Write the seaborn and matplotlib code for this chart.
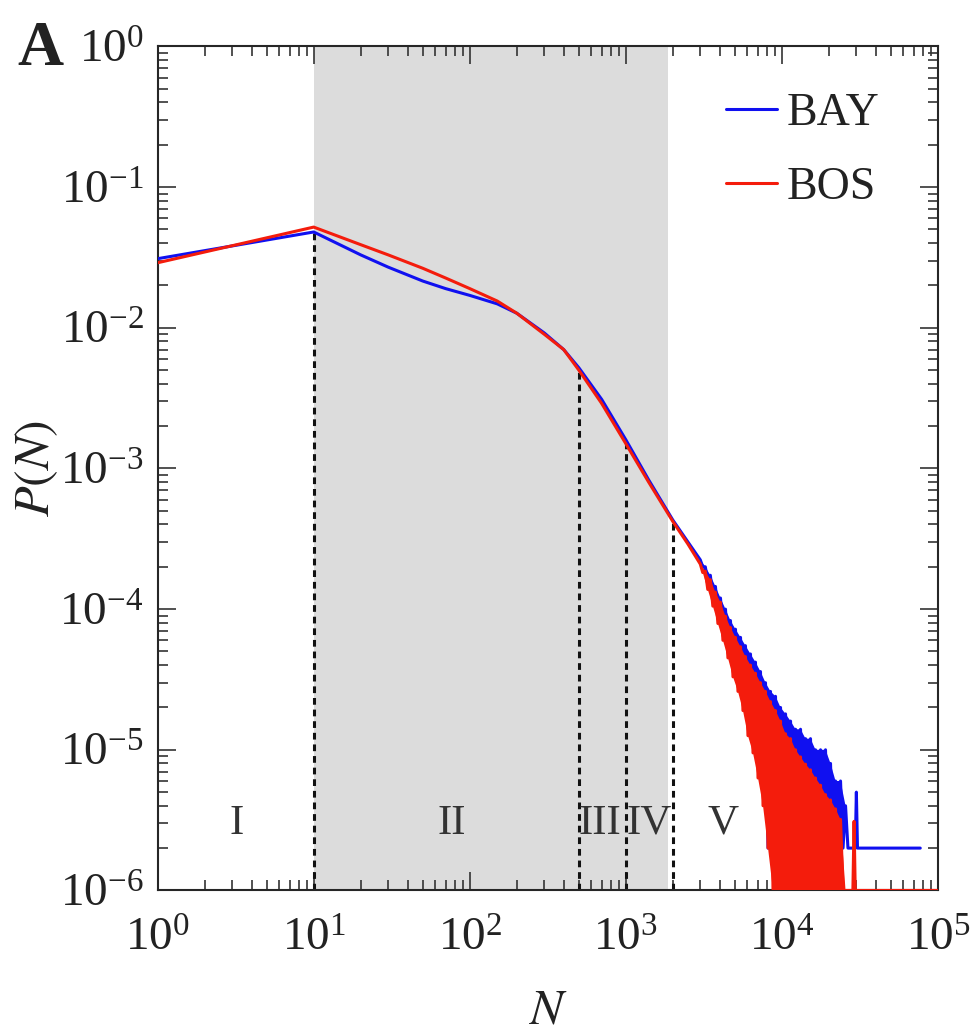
import matplotlib
matplotlib.use("Agg")

import matplotlib.pyplot as plt
import pandas as pd
import seaborn as sns
from matplotlib.ticker import LogLocator, NullFormatter

# smooth part of P(N)
n_head = [1, 10, 20, 30, 50, 70, 100, 150, 200, 300, 400, 500, 700, 1000, 1400, 2000, 2500]
bay_head = [0.031, 0.048, 0.033, 0.027, 0.0215, 0.019, 0.017, 0.0148, 0.0127, 0.0092, 0.0070,
            0.0052, 0.0031, 0.0016, 8.3e-4, 4.3e-4, 3.0e-4]
bos_head = [0.029, 0.052, 0.039, 0.033, 0.0265, 0.0226, 0.0190, 0.0155, 0.0127, 0.0090, 0.0070,
            0.0050, 0.0029, 0.0015, 8.0e-4, 4.2e-4, 2.9e-4]

# noisy tail (alternating upper / lower envelope of the scatter)
n_tail = [3000, 3110, 3230, 3350, 3480, 3610, 3750, 3890, 4040, 4190,
          4350, 4510, 4680, 4860, 5040, 5230, 5430, 5630, 5840, 6060,
          6290, 6530, 6770, 7030, 7290, 7570, 7850, 8150, 8450, 8770,
          9100, 9440, 9800, 10170, 10550, 10950, 11360, 11780, 12230, 12690,
          13160, 13660, 14170, 14700, 15250, 15830, 16420, 17040, 17680, 18340,
          19030, 19750, 20490, 21260, 22060, 22890, 23750, 24640, 25570]
bay_tail = [2.24e-4, 2.0e-4, 2.0e-4, 1.58e-4, 1.74e-4, 1.2e-4, 1.45e-4, 9.5e-5, 1.2e-4, 7.2e-5,
            1.0e-4, 5.2e-5, 8.3e-5, 4.0e-5, 7.2e-5, 3.2e-5, 6.3e-5, 2.4e-5, 5.5e-5, 1.8e-5,
            4.8e-5, 1.4e-5, 4.2e-5, 1.0e-5, 3.6e-5, 6e-6, 3.0e-5, 2e-6, 2.6e-5, 4e-6,
            2.4e-5, 2e-6, 2.0e-5, 2e-6, 1.8e-5, 6e-6, 1.6e-5, 2e-6, 1.4e-5, 2e-6,
            1.4e-5, 4e-6, 1.2e-5, 2e-6, 1.2e-5, 2e-6, 1.0e-5, 2e-6, 1.0e-5, 4e-6,
            1.0e-5, 2e-6, 8e-6, 2e-6, 6e-6, 2e-6, 6e-6, 2e-6, 4e-6]
bos_tail = [2.09e-4, 1.82e-4, 1.86e-4, 1.38e-4, 1.62e-4, 1.05e-4, 1.32e-4, 7.9e-5, 1.12e-4, 6.0e-5,
            8.9e-5, 4.5e-5, 7.4e-5, 3.3e-5, 6.3e-5, 2.6e-5, 5.4e-5, 1.9e-5, 4.6e-5, 1.26e-5,
            4.0e-5, 9.5e-6, 3.5e-5, 6.3e-6, 3.0e-5, 4.0e-6, 2.6e-5, 2.0e-6, 2.2e-5, 1e-6,
            1.9e-5, 1e-6, 1.6e-5, 1e-6, 1.3e-5, 1e-6, 1.2e-5, 1e-6, 1.0e-5, 1e-6,
            8.9e-6, 1e-6, 7.9e-6, 1e-6, 7.2e-6, 1e-6, 6.3e-6, 1e-6, 5.6e-6, 1e-6,
            4.8e-6, 1e-6, 4.4e-6, 1e-6, 3.8e-6, 1e-6, 3.2e-6, 1e-6, 1e-6]

# sparse far end
n_bay_end = [26500, 29500, 30000, 30500, 77000]
bay_end = [2e-6, 2e-6, 5e-6, 2e-6, 2e-6]
n_bos_end = [28500, 29000, 29500, 100000]
bos_end = [1e-6, 3.1e-6, 1e-6, 1e-6]

# regimes
regime_edges = [10, 500, 1000, 2000]
regime_tops = [0.048, 0.0050, 0.0015, 0.00042]
regime_names = ["I", "II", "III", "IV", "V"]
regime_label_n = [3.2, 77, 683, 1410, 4220]
regime_label_p = 3.0e-6
shade_lo, shade_hi = 10, 1850

x_decades = [1, 10, 100, 1000, 10000, 100000]
y_decades = [1e-6, 1e-5, 1e-4, 1e-3, 1e-2, 1e-1, 1]

BAY_COLOR = "#1010f0"
BOS_COLOR = "#f41c0c"


def series(n_parts, p_parts):
    n = [v for part in n_parts for v in part]
    p = [v for part in p_parts for v in part]
    return pd.DataFrame({"N": n, "P": p})


def fill_scatter(ax, n, p, color, z):
    # close the zigzag into a band: peaks forward, troughs back
    xs = n[0::2] + n[1::2][::-1]
    ys = p[0::2] + p[1::2][::-1]
    ax.fill(xs, ys, color=color, lw=0, zorder=z)


sns.set_style("ticks")
plt.rcParams["font.family"] = ["Liberation Serif", "DejaVu Serif"]
plt.rcParams["mathtext.fontset"] = "stix"
plt.rcParams["axes.linewidth"] = 1.5
plt.rcParams["text.color"] = "#222222"
plt.rcParams["axes.labelcolor"] = "#222222"

bay = series([n_head, n_tail, n_bay_end], [bay_head, bay_tail, bay_end])
bos = series([n_head, n_tail, n_bos_end], [bos_head, bos_tail, bos_end])

fig = plt.figure(figsize=(9.73, 10.33), dpi=100)
ax = fig.add_axes([0.162, 0.138, 0.802, 0.817])
ax.set_xscale("log")
ax.set_yscale("log")

ax.axvspan(shade_lo, shade_hi, color="#dcdcdc", lw=0, zorder=0)
ax.vlines(regime_edges, 1e-6, regime_tops, colors="#111111",
          linestyles=(0, (2.2, 1.6)), lw=2.2, zorder=2)

sns.lineplot(data=bay, x="N", y="P", ax=ax, color=BAY_COLOR, lw=2.2,
             estimator=None, sort=False, label="BAY", zorder=3)
fill_scatter(ax, n_tail, bay_tail, BAY_COLOR, 3)
sns.lineplot(data=bos, x="N", y="P", ax=ax, color=BOS_COLOR, lw=2.2,
             estimator=None, sort=False, label="BOS", zorder=4)
fill_scatter(ax, n_tail, bos_tail, BOS_COLOR, 4)

for name, xn in zip(regime_names, regime_label_n):
    ax.text(xn, regime_label_p, name, ha="center", va="center", fontsize=31, color="#333333")

ax.set_xticks(x_decades)
ax.set_yticks(y_decades)
for axis in (ax.xaxis, ax.yaxis):
    axis.set_minor_locator(LogLocator(base=10, subs=range(2, 10), numticks=12))
    axis.set_minor_formatter(NullFormatter())
ax.set_xlim(1, 1e5)
ax.set_ylim(1e-6, 1)
ax.tick_params(which="both", direction="in", top=True, right=True,
               width=1.2, colors="#333333", labelcolor="#222222", labelsize=34)
ax.tick_params(which="major", length=13)
ax.tick_params(which="minor", length=7)
ax.tick_params(axis="x", which="major", pad=20)
ax.tick_params(axis="y", which="major", pad=10)

ax.set_xlabel("$N$", fontsize=36)
ax.set_ylabel("$P(N)$", fontsize=36)
ax.xaxis.set_label_coords(0.5, -0.115)
ax.yaxis.set_label_coords(-0.125, 0.5)

ax.legend(loc="upper left", bbox_to_anchor=(0.729, 0.945), frameon=False, fontsize=33,
          handlelength=1.11, handletextpad=0.2, labelspacing=0.68,
          borderpad=0, borderaxespad=0)

fig.text(17 / 973, 1 - 65 / 1033, "A", fontsize=46, fontweight="bold", va="baseline")

fig.savefig("out.png", dpi=100)
